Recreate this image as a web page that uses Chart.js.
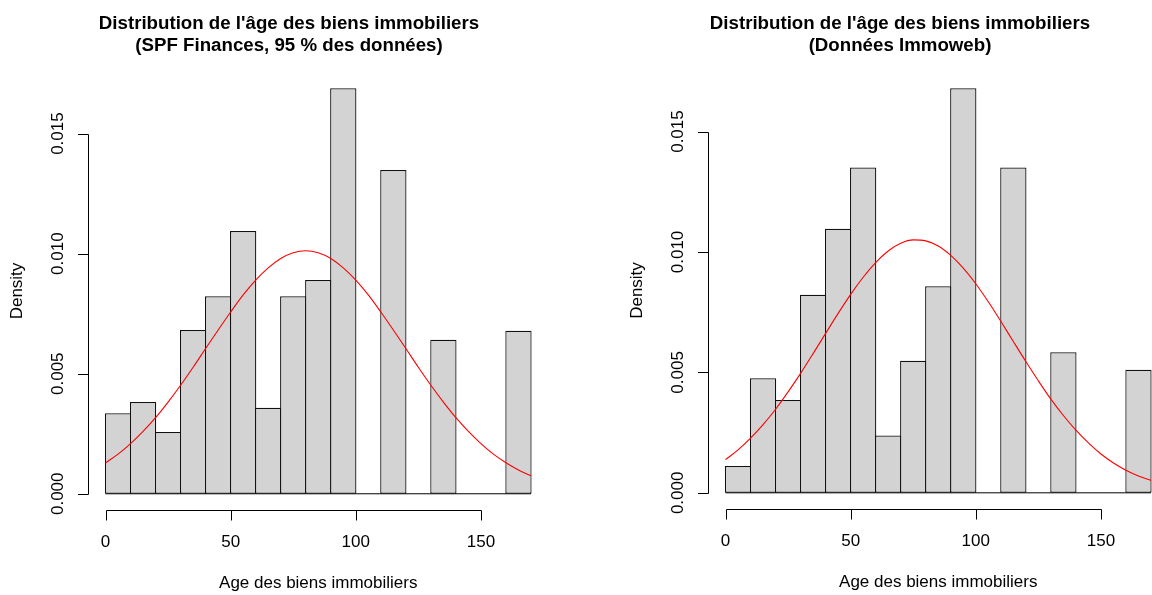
<!DOCTYPE html>
<html lang="fr">
<head>
<meta charset="utf-8">
<title>Distribution de l'âge des biens immobiliers</title>
<script src="https://cdn.jsdelivr.net/npm/chart.js@4.4.1/dist/chart.umd.min.js"></script>
<style>
  html, body { margin: 0; padding: 0; background: #fff; }
  body { width: 1152px; height: 595px; overflow: hidden; position: relative; }
  .panel { position: absolute; top: 0; width: 576px; height: 595px; }
  canvas { display: block; }
</style>
</head>
<body>
<div class="panel" style="left:0"><canvas id="histSPF" width="576" height="595"></canvas></div>
<div class="panel" style="left:620px"><canvas id="histImmoweb" width="576" height="595"></canvas></div>
<script>
// Histogram bins (lower edge of each 10-year class)
const binStarts = [0, 10, 20, 30, 40, 50, 60, 70, 80, 90, 100, 110, 120, 130, 140, 150, 160];
const binWidth = 10;

// Densities per class
const densitySPF      = [0.00335, 0.00382, 0.00257, 0.00682, 0.00823, 0.01094, 0.00358, 0.00823, 0.00890, 0.01689, 0, 0.01348, 0, 0.00641, 0, 0, 0.00679];
const densityImmoweb  = [0.00111, 0.00476, 0.00385, 0.00822, 0.01096, 0.01351, 0.00238, 0.00548, 0.00858, 0.01680, 0, 0.01351, 0, 0.00584, 0, 0, 0.00511];

// Fitted normal density curves
const curveAges = [0, 5, 10, 15, 20, 25, 30, 35, 40, 45, 50, 55, 60, 65, 70, 75, 80, 85, 90, 95, 100, 105, 110, 115, 120, 125, 130, 135, 140, 145, 150, 155, 160, 165, 170];
const normalSPF = [0.00129, 0.00165, 0.00209, 0.00260, 0.00317, 0.00382, 0.00452, 0.00527, 0.00605, 0.00682, 0.00757, 0.00828, 0.00890, 0.00941, 0.00980, 0.01004, 0.01012, 0.01004, 0.00980, 0.00941, 0.00890, 0.00828, 0.00757, 0.00682, 0.00605, 0.00527, 0.00452, 0.00382, 0.00317, 0.00260, 0.00209, 0.00165, 0.00129, 0.00099, 0.00075];
const normalImmoweb = [0.00138, 0.00178, 0.00227, 0.00283, 0.00347, 0.00419, 0.00496, 0.00578, 0.00662, 0.00745, 0.00824, 0.00895, 0.00956, 0.01004, 0.01036, 0.01050, 0.01046, 0.01025, 0.00986, 0.00933, 0.00868, 0.00793, 0.00712, 0.00628, 0.00545, 0.00465, 0.00389, 0.00321, 0.00260, 0.00207, 0.00161, 0.00124, 0.00094, 0.00070, 0.00051];

// Axis ticks
const xTickValues = [0, 50, 100, 150];
const yTickValues = [0, 0.005, 0.010, 0.015];
const yTickLabels = ['0.000', '0.005', '0.010', '0.015'];

// Texts
const titleLine = "Distribution de l'âge des biens immobiliers";
const subtitleSPF = "(SPF Finances, 95 % des données)";
const subtitleImmoweb = "(Données Immoweb)";
const xAxisTitle = 'Age des biens immobiliers';
const yAxisTitle = 'Density';

const FONT = '"Liberation Sans", Arial, Helvetica, sans-serif';

// Base-graphics style axes: detached axis lines spanning the ticks only
const baseAxes = {
  id: 'baseAxes',
  afterDraw(chart, args, opts) {
    const { ctx, chartArea: a, scales: { x, y } } = chart;
    ctx.save();
    ctx.strokeStyle = '#000';
    ctx.fillStyle = '#000';
    ctx.lineWidth = 1;

    // y axis
    const yx = Math.floor(a.left) + 0.5;
    const y0 = y.getPixelForValue(yTickValues[0]);
    const y1 = y.getPixelForValue(yTickValues[yTickValues.length - 1]);
    ctx.beginPath();
    ctx.moveTo(yx, Math.round(y0) + 0.5);
    ctx.lineTo(yx, Math.round(y1) + 0.5);
    yTickValues.forEach(v => {
      const py = Math.round(y.getPixelForValue(v)) + 0.5;
      ctx.moveTo(yx, py);
      ctx.lineTo(yx - 10.5, py);
    });
    ctx.stroke();

    ctx.font = '17px ' + FONT;
    ctx.textAlign = 'center';
    ctx.textBaseline = 'middle';
    yTickValues.forEach((v, i) => {
      ctx.save();
      ctx.translate(a.left - 30.5, y.getPixelForValue(v));
      ctx.rotate(-Math.PI / 2);
      ctx.fillText(yTickLabels[i], 0, 0);
      ctx.restore();
    });

    // x axis
    const xy = Math.floor(a.bottom) + 0.5;
    const x0 = x.getPixelForValue(xTickValues[0]);
    const x1 = x.getPixelForValue(xTickValues[xTickValues.length - 1]);
    ctx.beginPath();
    ctx.moveTo(Math.round(x0) + 0.5, xy);
    ctx.lineTo(Math.round(x1) + 0.5, xy);
    xTickValues.forEach(v => {
      const px = Math.round(x.getPixelForValue(v)) + 0.5;
      ctx.moveTo(px, xy);
      ctx.lineTo(px, xy + 10);
    });
    ctx.stroke();
    xTickValues.forEach(v => {
      ctx.fillText(String(v), x.getPixelForValue(v), a.bottom + 32);
    });

    // axis titles
    ctx.fillText(xAxisTitle, (a.left + a.right) / 2, a.bottom + 73);
    ctx.save();
    ctx.translate(a.left - 71.5, (a.top + a.bottom) / 2);
    ctx.rotate(-Math.PI / 2);
    ctx.fillText(yAxisTitle, 0, 0);
    ctx.restore();

    // main title (two lines, bold)
    ctx.font = 'bold 18.7px ' + FONT;
    ctx.textBaseline = 'alphabetic';
    ctx.fillText(opts.line1, opts.centerX, 28.5);
    ctx.fillText(opts.line2, opts.centerX, 51);
    ctx.restore();
  }
};

function drawHistogram(canvasId, densities, curve, subtitle, titleCenterX, bottomPad) {
  const lo = binStarts[0];
  const hi = binStarts[binStarts.length - 1] + binWidth;
  const ext = 0.04 * (hi - lo);
  const yMax = Math.max(...densities);

  const bars = binStarts.map((s, i) => ({ x: s + binWidth / 2, y: densities[i] }));
  const fitted = curveAges.map((a, i) => ({ x: a, y: curve[i] }));

  new Chart(document.getElementById(canvasId), {
    type: 'bar',
    data: {
      datasets: [
        {
          type: 'line',
          data: [{ x: lo, y: 0 }, { x: hi, y: 0 }],
          borderColor: '#000',
          borderWidth: 1,
          pointRadius: 0,
          order: 3
        },
        {
          type: 'bar',
          data: bars,
          backgroundColor: '#D3D3D3',
          borderColor: '#111',
          borderWidth: 1.25,
          borderSkipped: false,
          categoryPercentage: 1,
          barPercentage: 1.05,
          inflateAmount: 0,
          order: 2
        },
        {
          type: 'line',
          data: fitted,
          borderColor: '#FF0000',
          borderWidth: 1.1,
          pointRadius: 0,
          fill: false,
          cubicInterpolationMode: 'monotone',
          order: 1
        }
      ]
    },
    options: {
      responsive: false,
      animation: false,
      devicePixelRatio: 1,
      layout: { padding: { left: 88.5, right: 28, top: 72, bottom: bottomPad } },
      scales: {
        x: { type: 'linear', min: lo - ext, max: hi + ext, offset: false, display: false },
        y: { type: 'linear', min: -0.04 * yMax, max: 1.04 * yMax, display: false }
      },
      plugins: {
        legend: { display: false },
        tooltip: { enabled: false },
        baseAxes: { line1: titleLine, line2: subtitle, centerX: titleCenterX }
      }
    },
    plugins: [baseAxes]
  });
}

drawHistogram('histSPF', densitySPF, normalSPF, subtitleSPF, 289, 85);
drawHistogram('histImmoweb', densityImmoweb, normalImmoweb, subtitleImmoweb, 280, 86);
</script>
</body>
</html>
